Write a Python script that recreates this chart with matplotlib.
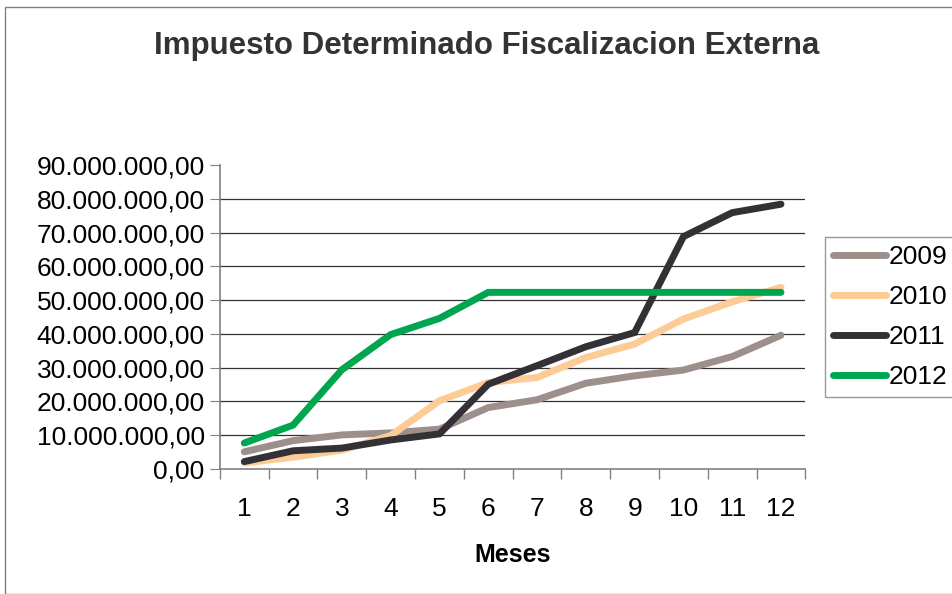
import matplotlib.pyplot as plt
from matplotlib.ticker import FuncFormatter, MultipleLocator
from matplotlib.patches import Rectangle

plt.rcParams['font.family'] = ['Liberation Sans', 'DejaVu Sans']

meses = list(range(1, 13))
series = ['2009', '2010', '2011', '2012']
v2009 = [5.1, 8.4, 10.1, 10.7, 11.8, 18.2, 20.5, 25.4, 27.6, 29.3, 33.3, 39.6]
v2010 = [1.8, 3.5, 5.6, 9.9, 20.2, 25.6, 27.1, 33.0, 37.0, 44.4, 49.5, 53.8]
v2011 = [2.2, 5.4, 6.2, 8.6, 10.4, 25.1, 30.6, 36.2, 40.4, 68.8, 75.9, 78.4]
v2012 = [7.7, 13.0, 29.4, 39.8, 44.6, 52.3, 52.3, 52.3, 52.3, 52.3, 52.3, 52.3]
colors = ['#9c8f8c', '#fdcb95', '#333136', '#00a550']

fig = plt.figure(figsize=(9.52, 5.94), dpi=100)
ax = fig.add_axes([0.231, 0.2104, 0.615, 0.5118])

for name, vals, c in zip(series, [v2009, v2010, v2011, v2012], colors):
    ax.plot(meses, [v * 1e6 for v in vals], color=c, lw=5, label=name,
            solid_capstyle='round', solid_joinstyle='miter')

ax.set_xlim(0.5, 12.5)
ax.set_ylim(0, 90e6)
ax.yaxis.set_major_locator(MultipleLocator(10e6))
fmt = lambda v, p: f'{v:,.2f}'.replace(',', 'X').replace('.', ',').replace('X', '.')
ax.yaxis.set_major_formatter(FuncFormatter(fmt))
ax.set_xticks(meses)
ax.set_xticks([m + 0.5 for m in range(0, 13)], minor=True)
ax.tick_params(axis='x', which='major', length=0, labelsize=19, pad=20)
ax.tick_params(axis='x', which='minor', length=7, color='#808080', width=1)
ax.tick_params(axis='y', length=7, color='#808080', labelsize=19, pad=4)

for y in range(1, 9):
    ax.axhline(y * 10e6, color='#333333', lw=0.9, zorder=0)

for s in ['top', 'right']:
    ax.spines[s].set_visible(False)
for s in ['left', 'bottom']:
    ax.spines[s].set_color('#808080')
    ax.spines[s].set_linewidth(1.2)

ax.set_xlabel('Meses', fontsize=18, fontweight='bold', labelpad=16)
fig.text(0.511, 0.922, 'Impuesto Determinado Fiscalizacion Externa', ha='center',
         va='center', fontsize=22.5, fontweight='bold', color='#333333')

leg = ax.legend(loc='center left', bbox_to_anchor=(1.034, 0.5), fontsize=19,
                frameon=True, fancybox=False, edgecolor='#808080', handlelength=2.0,
                handletextpad=0.1, borderpad=0.3, labelspacing=0.6,
                borderaxespad=0)
leg.get_frame().set_linewidth(1)

fig.patches.append(Rectangle((0.005, 0), 1.0, 0.988, transform=fig.transFigure,
                             fill=False, edgecolor='#808080', lw=1))

fig.savefig('out.png', dpi=100)
